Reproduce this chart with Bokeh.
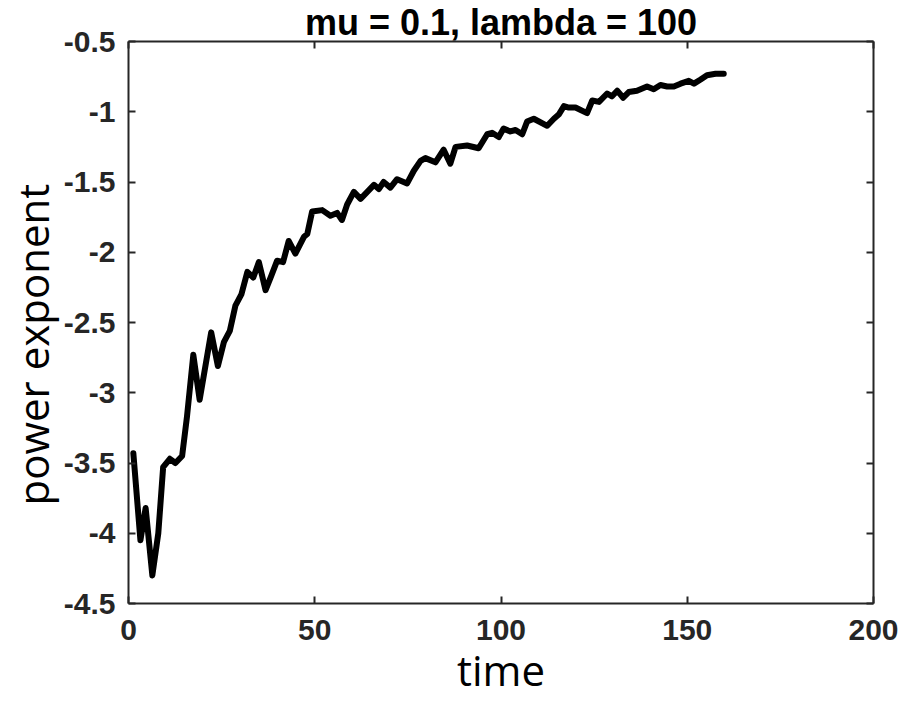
from bokeh.plotting import figure
from bokeh.models import Range1d, LinearAxis, FixedTicker, Title
from bokeh.embed import file_html
from bokeh.resources import INLINE

# ---- data ----
time = [1.3, 3.2, 4.6, 6.4, 8.0, 9.3, 11.1, 12.6, 14.4, 15.7, 17.4, 19.1, 22.2, 24.0,
        25.6, 27.2, 28.7, 30.3, 31.9, 33.5, 35.0, 36.8, 38.3, 39.9, 41.5, 43.0, 44.8,
        47.1, 48.0, 49.3, 52.0, 54.2, 56.0, 57.3, 58.7, 60.5, 62.3, 65.9, 67.2, 68.5,
        70.3, 72.1, 74.8, 76.6, 78.4, 79.7, 82.4, 84.6, 86.4, 87.8, 90.9, 94.0, 96.3,
        97.6, 99.4, 100.7, 102.5, 103.9, 105.7, 107.0, 108.8, 112.4, 114.2, 115.5,
        116.9, 118.2, 120.0, 123.1, 124.5, 126.3, 128.5, 129.8, 131.2, 132.8, 134.3,
        136.5, 139.2, 141.0, 142.8, 144.6, 146.4, 148.2, 150.4, 151.8, 153.6, 155.3,
        157.6, 159.8]
power_exponent = [-3.43, -4.05, -3.82, -4.30, -4.00, -3.53, -3.47, -3.50, -3.45, -3.17,
                  -2.73, -3.05, -2.57, -2.81, -2.64, -2.56, -2.38, -2.30, -2.14, -2.18,
                  -2.07, -2.27, -2.17, -2.06, -2.07, -1.92, -2.01, -1.89, -1.87, -1.71,
                  -1.70, -1.74, -1.72, -1.77, -1.66, -1.57, -1.62, -1.52, -1.55, -1.50,
                  -1.54, -1.48, -1.51, -1.42, -1.35, -1.33, -1.36, -1.27, -1.37, -1.25,
                  -1.24, -1.26, -1.16, -1.15, -1.18, -1.12, -1.14, -1.13, -1.16, -1.07,
                  -1.05, -1.10, -1.05, -1.02, -0.96, -0.97, -0.97, -1.01, -0.92, -0.93,
                  -0.87, -0.89, -0.85, -0.90, -0.86, -0.85, -0.82, -0.84, -0.81, -0.82,
                  -0.82, -0.80, -0.78, -0.80, -0.77, -0.74, -0.73, -0.73]

x_ticks = [0, 50, 100, 150, 200]
x_tick_labels = ["0", "50", "100", "150", "200"]
y_ticks = [-4.5, -4, -3.5, -3, -2.5, -2, -1.5, -1, -0.5]
y_tick_labels = ["-4.5", "-4", "-3.5", "-3", "-2.5", "-2", "-1.5", "-1", "-0.5"]

title_text = "mu = 0.1, lambda = 100"
x_label = "time"
y_label = "power exponent"

AX = "#262626"

p = figure(width=904, height=701, output_backend="svg", toolbar_location=None,
           x_range=Range1d(0, 200), y_range=Range1d(-4.5, -0.5),
           min_border_left=128, min_border_right=31, min_border_top=41,
           min_border_bottom=98, x_axis_location=None, y_axis_location=None)
p.background_fill_color = "white"
p.border_fill_color = "white"
p.outline_line_color = None
p.grid.visible = False

p.title.text = title_text
p.title.align = "center"
p.title.text_font = "Liberation Sans"
p.title.text_font_style = "bold"
p.title.text_font_size = "36px"
p.title.text_color = "black"
p.title.standoff = -3

def make_axis(ticks, labels, show_labels):
    ax = LinearAxis(ticker=FixedTicker(ticks=ticks))
    if show_labels:
        ax.major_label_overrides = {t: l for t, l in zip(ticks, labels)}
    ax.axis_line_color = AX
    ax.axis_line_width = 2
    ax.major_tick_line_color = AX
    ax.major_tick_line_width = 2
    ax.major_tick_in = 7
    ax.major_tick_out = 0
    ax.minor_tick_line_color = None
    ax.major_label_text_font = "Liberation Sans"
    ax.major_label_text_font_style = "bold"
    ax.major_label_text_font_size = "30px" if show_labels else "0px"
    ax.major_label_text_color = AX if show_labels else None
    ax.axis_label_text_font = "Open Sans"
    ax.axis_label_text_font_style = "normal"
    ax.axis_label_text_font_size = "42px"
    ax.axis_label_text_color = "black"
    return ax

bottom = make_axis(x_ticks, x_tick_labels, True)
bottom.major_label_standoff = 16
bottom.axis_label = x_label
bottom.axis_label_standoff = -2
p.add_layout(bottom, "below")

left = make_axis(y_ticks, y_tick_labels, True)
left.major_label_standoff = 13
p.add_layout(left, "left")

top = make_axis(x_ticks, x_tick_labels, False)
top.major_label_standoff = 0
p.add_layout(top, "above")
right = make_axis(y_ticks, y_tick_labels, False)
right.major_label_standoff = 0
p.add_layout(right, "right")

ylab = Title(text=y_label, align="left", offset=98, standoff=0,
             text_font="Open Sans", text_font_style="normal",
             text_font_size="42px", text_color="black")
p.add_layout(ylab, "left")

p.line(time, power_exponent, line_color="black", line_width=6, line_join="round",
       line_cap="round")

open("out.html", "w").write(file_html(p, INLINE))
